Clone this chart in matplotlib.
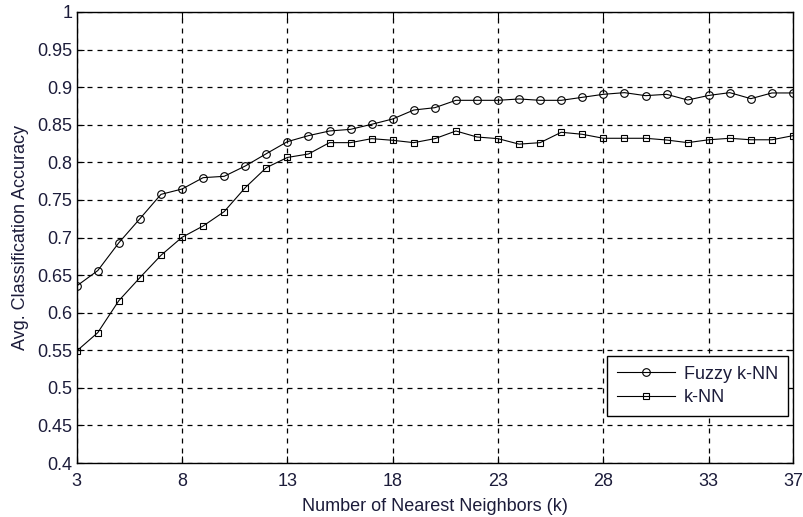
import matplotlib
matplotlib.use("Agg")
import matplotlib.pyplot as plt

plt.rcParams['font.family'] = ['Liberation Sans', 'DejaVu Sans']

k = list(range(3, 38))
fuzzy_knn = [0.6355, 0.656, 0.693, 0.725, 0.7574, 0.7645, 0.7796, 0.7814, 0.7951, 0.8115,
             0.8275, 0.8355, 0.8417, 0.8439, 0.8506, 0.8577, 0.8696, 0.8727, 0.8825, 0.8825,
             0.8825, 0.8843, 0.8825, 0.8825, 0.8865, 0.8905, 0.8927, 0.8887, 0.8905, 0.8829,
             0.889, 0.8927, 0.8847, 0.8923, 0.8923]
knn = [0.549, 0.5734, 0.616, 0.6466, 0.6763, 0.7003, 0.7153, 0.7344, 0.7663, 0.7929,
       0.8065, 0.8111, 0.8262, 0.8262, 0.8315, 0.8293, 0.8262, 0.8315, 0.8417, 0.8337,
       0.8315, 0.8242, 0.8262, 0.84, 0.8373, 0.832, 0.832, 0.832, 0.8297, 0.8262,
       0.83, 0.832, 0.83, 0.83, 0.8355]
xticks = [3, 8, 13, 18, 23, 28, 33, 37]
yticks = [0.4, 0.45, 0.5, 0.55, 0.6, 0.65, 0.7, 0.75, 0.8, 0.85, 0.9, 0.95, 1]
ytick_labels = ['0.4', '0.45', '0.5', '0.55', '0.6', '0.65', '0.7', '0.75', '0.8', '0.85', '0.9', '0.95', '1']

txt = '#1c1c3a'
fig = plt.figure(figsize=(8.04, 5.17), dpi=100)
ax = fig.add_axes([76.7/804, 1-463/517, (793-76.7)/804, (463-12)/517])

ax.plot(k, fuzzy_knn, color='black', lw=0.8, marker='o', ms=5.5, mfc='none', mec='black', mew=0.8, label='Fuzzy k-NN')
ax.plot(k, knn, color='black', lw=0.8, marker='s', ms=5, mfc='none', mec='black', mew=0.8, label='k-NN')

ax.set_xlim(3, 37)
ax.set_ylim(0.4, 1)
ax.set_xticks(xticks)
ax.set_yticks(yticks)
ax.set_yticklabels(ytick_labels)
ax.grid(True, color='black', linestyle=(0, (4, 4)), lw=0.9)
ax.tick_params(direction='in', top=True, right=True, length=5, labelsize=13, colors='black', labelcolor=txt)
ax.tick_params(axis='x', pad=7)
ax.tick_params(axis='y', pad=3)
for s in ax.spines.values():
    s.set_linewidth(1.0)

ax.set_xlabel('Number of Nearest Neighbors (k)', fontsize=13, color=txt, labelpad=6)
ax.set_ylabel('Avg. Classification Accuracy', fontsize=13, color=txt, labelpad=6)

leg = ax.legend(loc='lower right', bbox_to_anchor=((788-76.7)/(793-76.7), (463-416)/451),
                fontsize=13, frameon=True, fancybox=False, edgecolor='black', framealpha=1,
                borderpad=0.55, handlelength=3.2, handletextpad=0.5, labelspacing=0.35, borderaxespad=0)
leg.get_frame().set_linewidth(1.0)
for t in leg.get_texts():
    t.set_color(txt)

fig.savefig('out.png', dpi=100)
